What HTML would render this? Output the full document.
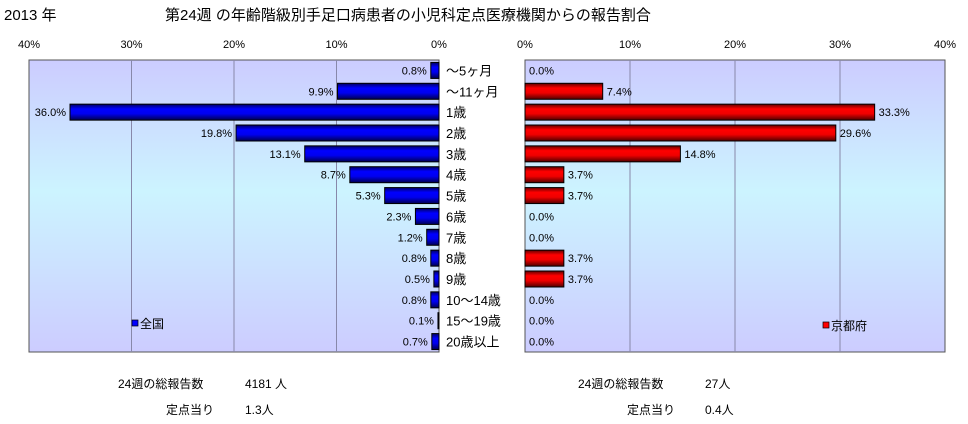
<!DOCTYPE html>
<html><head><meta charset="utf-8"><style>
body{margin:0;background:#fff;font-family:"Liberation Sans","Noto Sans CJK JP",sans-serif;}
#wrap{position:relative;width:968px;height:424px;overflow:hidden;background:#fff}
</style></head><body>
<div id="wrap">
<svg id="svg" width="968" height="424" xmlns="http://www.w3.org/2000/svg">
<defs>
<linearGradient id="bg" x1="0" y1="0" x2="0" y2="1">
<stop offset="0" stop-color="#ccccff"/><stop offset="0.45" stop-color="#ccf4ff"/><stop offset="1" stop-color="#ccccff"/>
</linearGradient>
<linearGradient id="gb" x1="0" y1="0" x2="0" y2="1">
<stop offset="0" stop-color="#000060"/><stop offset="0.3" stop-color="#0000ff"/><stop offset="0.6" stop-color="#0000f0"/><stop offset="1" stop-color="#000050"/>
</linearGradient>
<linearGradient id="gr" x1="0" y1="0" x2="0" y2="1">
<stop offset="0" stop-color="#600000"/><stop offset="0.3" stop-color="#ff0000"/><stop offset="0.6" stop-color="#f00000"/><stop offset="1" stop-color="#500000"/>
</linearGradient>
</defs>
<text x="4" y="20" font-size="15">2013 年</text>
<text x="165" y="20" font-size="15">第24週 の年齢階級別手足口病患者の小児科定点医療機関からの報告割合</text>
<g id="left"></g><g id="right"></g><g id="cats"></g>
<rect x="132" y="320" width="6" height="6" fill="#0000ff" stroke="#000" stroke-width="0.7"/>
<text x="140" y="328" font-size="12">全国</text>
<rect x="823" y="322" width="6" height="6" fill="#ff0000" stroke="#000" stroke-width="0.7"/>
<text x="831" y="330" font-size="12">京都府</text>
<text x="118" y="388" font-size="12">24週の総報告数</text>
<text x="245" y="388" font-size="12">4181 人</text>
<text x="166" y="414" font-size="12">定点当り</text>
<text x="245" y="414" font-size="12">1.3人</text>
<text x="578" y="388" font-size="12">24週の総報告数</text>
<text x="705" y="388" font-size="12">27人</text>
<text x="627" y="414" font-size="12">定点当り</text>
<text x="705" y="414" font-size="12">0.4人</text>
</svg></div>
<script>
const categories=["～5ヶ月","～11ヶ月","1歳","2歳","3歳","4歳","5歳","6歳","7歳","8歳","9歳","10～14歳","15～19歳","20歳以上"];
const nationalValues=[0.8,9.9,36.0,19.8,13.1,8.7,5.3,2.3,1.2,0.8,0.5,0.8,0.1,0.7];
const kyotoValues=[0.0,7.4,33.3,29.6,14.8,3.7,3.7,0.0,0.0,3.7,3.7,0.0,0.0,0.0];
const tickValues=[0,10,20,30,40];
const tickLabels=["0%","10%","20%","30%","40%"];
const NS="http://www.w3.org/2000/svg";
const top0=60,bot=352,rowH=(bot-top0)/categories.length,barH=16;
const L0=439,L40=29,R0=525,R40=945;
const xL=v=>L0+(L40-L0)*v/40, xR=v=>R0+(R40-R0)*v/40, yC=i=>top0+rowH*(i+0.5);
function mk(tag,attrs,parent){const e=document.createElementNS(NS,tag);for(const k in attrs)e.setAttribute(k,attrs[k]);parent.appendChild(e);return e;}
const gl=document.getElementById('left'),gr=document.getElementById('right'),gc=document.getElementById('cats');
let r=mk('rect',{x:L40,y:top0,width:L0-L40,height:bot-top0,fill:'url(#bg)',stroke:'#555'},gl);


r=mk('rect',{x:R0,y:top0,width:R40-R0,height:bot-top0,fill:'url(#bg)',stroke:'#555'},gr);


tickValues.forEach((t,k)=>{
  if(t>0&&t<40){
    let l=mk('line',{x1:xL(t),x2:xL(t),y1:top0,y2:bot,stroke:'#8888aa'},gl);
    
    
    l=mk('line',{x1:xR(t),x2:xR(t),y1:top0,y2:bot,stroke:'#8888aa'},gr);
    
    
  }
  let tx=mk('text',{x:xL(t),y:48,'font-size':11,'text-anchor':'middle'},gl);tx.textContent=tickLabels[k];
  
  
  tx=mk('text',{x:xR(t),y:48,'font-size':11,'text-anchor':'middle'},gr);tx.textContent=tickLabels[k];
  
  
});
categories.forEach((c,i)=>{
  const y=yC(i),v=nationalValues[i],w=kyotoValues[i];
  let b=mk('rect',{x:xL(v),y:y-barH/2,width:L0-xL(v),height:barH,fill:'url(#gb)',stroke:'#000','stroke-width':1},gl);
  
  
  let t=mk('text',{x:xL(v)-4,y:y+4,'font-size':11,'text-anchor':'end'},gl);t.textContent=v.toFixed(1)+'%';
  
  
  if(w>0){
    b=mk('rect',{x:R0,y:y-barH/2,width:xR(w)-R0,height:barH,fill:'url(#gr)',stroke:'#000','stroke-width':1},gr);
    
    
  }
  t=mk('text',{x:xR(w)+4,y:y+4,'font-size':11},gr);t.textContent=w.toFixed(1)+'%';
  
  
  t=mk('text',{x:446,y:y+5,'font-size':13},gc);t.textContent=c;
  
  
});
</script>
</body></html>
